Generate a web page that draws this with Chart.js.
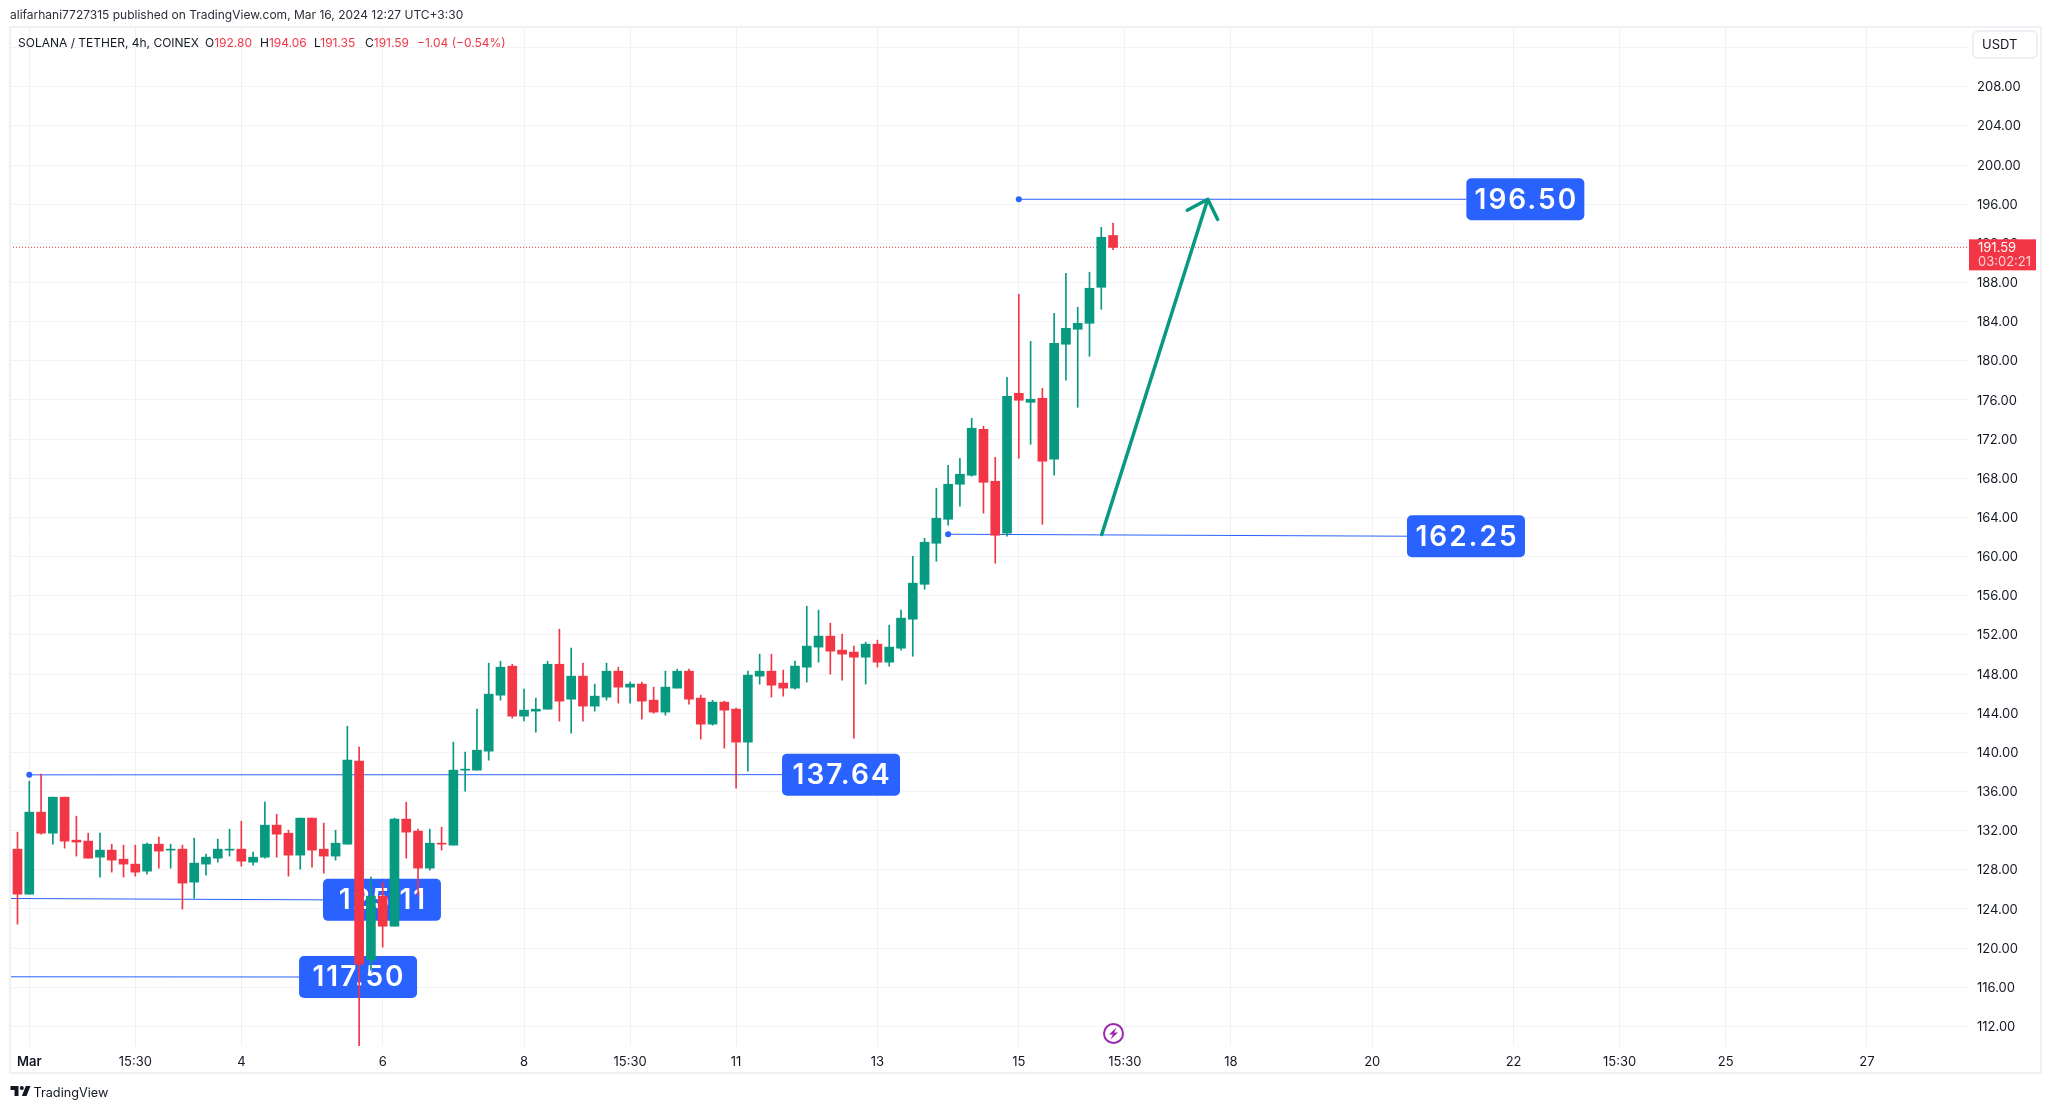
<!DOCTYPE html>
<html>
<head>
<meta charset="utf-8">
<title>SOLANA / TETHER, 4h, COINEX</title>
<script src="https://cdn.jsdelivr.net/npm/chart.js@4/dist/chart.umd.min.js"></script>
<style>
  html, body { margin: 0; padding: 0; background: #fff; }
  body { width: 2051px; height: 1109px; position: relative; overflow: hidden; font-family: Inter, sans-serif; color: #131722; }
  canvas { position: absolute; left: 0; top: 0; }
  .txt { position: absolute; white-space: pre; font-size: 12px; line-height: 16px; }
  .red { color: #f23645; }
</style>
</head>
<body>
<canvas id="chartSol" width="2051" height="1109"></canvas>
<div class="txt" style="left:10px;top:7px;color:#2a2e39">alifarhani7727315 published on TradingView.com, Mar 16, 2024 12:27 UTC+3:30</div>
<div class="txt" style="left:18px;top:35px">SOLANA / TETHER, 4h, COINEX</div>
<div class="txt" style="left:205px;top:35px">O<span class="red">192.80</span></div>
<div class="txt" style="left:260px;top:35px">H<span class="red">194.06</span></div>
<div class="txt" style="left:314px;top:35px">L<span class="red">191.35</span></div>
<div class="txt" style="left:365px;top:35px">C<span class="red">191.59</span></div>
<div class="txt red" style="left:417px;top:35px">−1.04 (−0.54%)</div>
<svg style="position:absolute;left:10px;top:1086px" width="21" height="10" viewBox="2 6 30 15"><path fill="#131722" d="M14 6H2v6h6v9h6V6Zm12 15h-7l6-15h7l-6 15Zm-7-9a3 3 0 1 0 0-6 3 3 0 0 0 0 6Z"/></svg>
<div class="txt" style="left:33.5px;top:1085px;font-size:12.7px">TradingView</div>
<svg style="position:absolute;left:1102px;top:1022px" width="23" height="23" viewBox="0 0 23 23"><circle cx="11.5" cy="11.5" r="9.5" fill="#fff" stroke="#9c27b0" stroke-width="2"/><path fill="#9c27b0" d="M14.5 5.5 7 12.6h3.8L8.6 17.5l7.4-7h-3.8z"/></svg>
<script>
// 4h candles, oldest first
const opens = [130.11,125.51,133.89,131.74,135.42,131.03,130.93,129.29,130.01,129.09,128.58,127.86,130.62,130.01,130.11,126.74,128.58,129.19,130.01,130.11,128.78,129.29,132.56,131.74,129.5,133.28,130.11,129.4,130.62,139.1,118.77,125.31,122.24,133.18,131.95,128.17,130.72,130.52,138.18,138.18,140.12,145.84,148.8,143.7,144.21,144.41,149.0,145.43,147.78,144.72,145.64,148.29,146.66,146.97,145.33,144.11,146.56,148.29,145.54,142.88,145.13,144.41,141.04,147.78,148.29,147.07,146.56,148.7,150.75,151.87,150.44,150.24,149.72,151.05,149.21,150.64,153.6,157.17,161.36,163.81,167.39,168.31,173.0,167.69,162.38,176.68,175.76,176.17,169.94,181.69,183.22,183.83,187.51,192.80];
const highs = [131.85,137.06,137.77,135.42,135.42,133.48,131.74,131.74,130.62,130.52,130.52,130.72,131.34,130.62,130.52,131.23,129.6,131.13,132.15,132.97,129.8,134.91,133.68,132.05,133.28,133.28,132.77,132.05,142.67,140.53,127.25,126.74,133.28,134.91,132.15,132.15,132.36,141.04,140.02,144.41,149.11,149.31,149.0,146.45,145.53,149.31,152.58,150.64,149.11,146.97,149.11,148.7,147.17,147.17,146.66,148.29,148.5,148.5,145.84,145.33,145.23,144.51,148.29,150.03,150.03,148.4,149.32,154.93,154.53,153.2,152.07,150.85,151.26,151.46,152.99,154.53,160.03,161.87,166.98,169.33,170.04,174.13,173.31,170.15,178.32,186.8,181.99,177.19,184.86,188.94,185.47,189.05,193.64,194.06];
const lows = [122.45,125.51,131.64,130.62,130.21,129.4,129.19,127.25,127.76,127.25,127.35,127.56,128.17,128.17,123.98,125.1,127.45,128.78,129.4,128.37,128.48,129.19,129.29,127.35,128.06,128.27,127.66,128.99,130.62,109.99,117.75,120.1,122.24,129.19,125.41,127.96,130.01,130.52,136.03,138.18,139.2,145.33,143.5,143.2,142.06,144.41,143.19,141.96,143.19,144.21,145.33,145.03,145.03,143.39,144.0,143.8,146.56,144.92,141.35,142.78,140.43,136.34,138.08,146.97,145.64,145.74,146.46,147.17,149.21,147.99,147.38,141.45,146.97,148.7,148.8,150.44,149.82,156.66,159.52,163.2,165.14,168.2,164.43,159.32,162.08,170.04,171.47,163.3,168.31,178.01,175.25,180.46,185.26,191.35];
const closes = [125.51,133.89,131.74,135.42,130.93,130.83,129.19,130.01,128.99,128.58,127.76,130.62,129.91,130.11,126.64,128.68,129.29,130.11,130.11,128.88,129.29,132.56,131.64,129.5,133.28,130.01,129.4,130.72,139.2,118.36,125.31,122.24,133.18,131.85,128.17,130.72,130.62,138.18,138.28,140.22,145.94,148.7,143.7,144.31,144.41,149.0,145.23,147.78,144.72,145.74,148.29,146.66,146.97,145.23,144.11,146.66,148.29,145.43,142.88,145.13,144.31,141.04,147.89,148.29,146.86,146.56,148.81,150.85,151.87,150.34,150.03,149.72,151.05,149.21,150.75,153.71,157.28,161.46,163.91,167.39,168.41,173.11,167.59,162.18,176.38,175.97,176.07,169.74,181.79,183.32,183.83,187.41,192.62,191.59];

const priceTicks = [112,116,120,124,128,132,136,140,144,148,152,156,160,164,168,172,176,180,184,188,192,196,200,204,208,212];
const timeTickPos = [1,10,19,31,43,52,61,73,85,94,103,115,127,136,145,157];
const timeTickLabels = ['Mar','15:30','4','6','8','15:30','11','13','15','15:30','18','20','22','15:30','25','27'];

// drawn levels: bar position and price at both ends
const line196X = [85,122.99];    const line196Y = [196.5,196.5];
const line162X = [79,117.95];    const line162Y = [162.28,162.08];
const line137X = [1,64.9];       const line137Y = [137.7,137.72];
const line125X = [-0.637,25.93]; const line125Y = [125.07,124.93];
const line117X = [-0.637,23.9];  const line117Y = [117.07,117.05];
const levelTexts = ['196.50','162.25','137.64','125.11','117.50'];

// arrow path: tail, tip, left barb, tip, right barb
const arrowX = [92.04,101.04,99.30,101.04,101.88];
const arrowY = [162.25,196.5,195.38,196.5,194.43];

const lastPrice = 191.59;
const lastCountdown = '03:02:21';
const xMin = -0.637, xMax = 165.66, yMin = 110, yMax = 214.1;

const UP = '#089981', DOWN = '#f23645', BLUE = '#2962ff';
const idx = opens.map((_, i) => i);
const colors = idx.map(i => closes[i] >= opens[i] ? UP : DOWN);
const pts = (xs, ys) => xs.map((x, i) => ({ x: x, y: ys[i] }));

function levelLine(xs, ys, dot) {
    return {
        type: 'line', data: pts(xs, ys), order: 5,
        borderColor: BLUE, borderWidth: 1, tension: 0,
        pointRadius: c => (dot && c.dataIndex === 0) ? 3 : 0,
        pointBackgroundColor: BLUE, pointBorderWidth: 0
    };
}

const levelEnds = [[line196X,line196Y],[line162X,line162Y],[line137X,line137Y],[line125X,line125Y],[line117X,line117Y]];

const overlays = {
    id: 'overlays',
    // price tags sit behind the candles
    beforeDatasetsDraw(chart) {
        const c = chart.ctx, sx = chart.scales.x, sy = chart.scales.y;
        levelEnds.forEach((l, i) => {
            const x = sx.getPixelForValue(l[0][1]), y = sy.getPixelForValue(l[1][1]);
            c.fillStyle = '#2962ff';
            c.beginPath();
            c.roundRect(x, y - 21, 118, 42, 5);
            c.fill();
            c.fillStyle = '#fff';
            c.font = '600 28px Inter';
            c.letterSpacing = '2px';
            c.textAlign = 'center';
            c.textBaseline = 'middle';
            c.fillText(levelTexts[i], x + 60, y + 1);
            c.letterSpacing = '0px';
        });
    },
    afterDraw(chart) {
        const c = chart.ctx, sy = chart.scales.y;
        c.save();
        // outer frame
        c.strokeStyle = '#f0f0f5';
        c.lineWidth = 2;
        c.strokeRect(10, 27, 2031, 1046);
        // currency button
        c.fillStyle = '#fff';
        c.strokeStyle = '#eeeef3';
        c.beginPath();
        c.roundRect(1973, 31, 64, 27, 5);
        c.fill();
        c.stroke();
        c.fillStyle = '#131722';
        c.font = '13px Inter';
        c.textAlign = 'left';
        c.textBaseline = 'middle';
        c.fillText('USDT', 1982, 45);
        // last price tag
        const y = sy.getPixelForValue(lastPrice);
        c.fillStyle = DOWN;
        c.fillRect(1969, y - 8, 67, 31);
        c.fillStyle = '#fff';
        c.fillText(lastPrice.toFixed(2), 1978, y + 0.5);
        c.fillStyle = '#ffd5d9';
        c.fillText(lastCountdown, 1978, y + 15);
        c.restore();
    }
};

new Chart(document.getElementById('chartSol').getContext('2d'), {
    type: 'bar',
    data: {
        datasets: [
            { data: idx.map(i => ({ x: i, y: [opens[i], closes[i]] })), backgroundColor: colors, barThickness: 9, minBarLength: 1, grouped: false, order: 1 },
            { data: idx.map(i => ({ x: i, y: [lows[i], highs[i]] })), backgroundColor: colors, barThickness: 1, grouped: false, order: 2 },
            levelLine(line196X, line196Y, true),
            levelLine(line162X, line162Y, true),
            levelLine(line137X, line137Y, true),
            levelLine(line125X, line125Y, false),
            levelLine(line117X, line117Y, false),
            { type: 'line', data: pts(arrowX, arrowY), order: 3, borderColor: UP, borderWidth: 3.5, tension: 0, pointRadius: 0, borderCapStyle: 'round', borderJoinStyle: 'round' },
            { type: 'line', data: pts([xMin, xMax], [lastPrice, lastPrice]), order: 4, borderColor: DOWN, borderWidth: 1, borderDash: [1, 2], tension: 0, pointRadius: 0 }
        ]
    },
    options: {
        responsive: false,
        animation: false,
        layout: { padding: { left: 10, top: 27, right: 0, bottom: 0 } },
        plugins: { legend: { display: false }, tooltip: { enabled: false } },
        scales: {
            x: {
                type: 'linear', min: xMin, max: xMax, offset: false,
                grid: { color: '#f0f1f4', drawTicks: false, offset: false },
                border: { display: false },
                afterBuildTicks: s => { s.ticks = timeTickPos.map(v => ({ value: v })); },
                afterFit: s => { s.height = 63; },
                ticks: {
                    autoSkip: false, maxRotation: 0, padding: 8, color: '#131722',
                    font: c => ({ family: 'Inter', size: 13, weight: c.index === 0 ? '600' : '400' }),
                    callback: (v, i) => timeTickLabels[i]
                }
            },
            y: {
                position: 'right', min: yMin, max: yMax,
                grid: { color: '#f2f3f5', drawTicks: false },
                border: { display: false },
                afterBuildTicks: s => { s.ticks = priceTicks.map(v => ({ value: v })); },
                afterFit: s => { s.width = 82; },
                ticks: {
                    autoSkip: false, padding: 8, crossAlign: 'near', color: '#131722', labelOffset: 0.7,
                    font: { family: 'Inter', size: 13 },
                    callback: v => v.toFixed(2)
                }
            }
        }
    },
    plugins: [overlays]
});
</script>
</body>
</html>
